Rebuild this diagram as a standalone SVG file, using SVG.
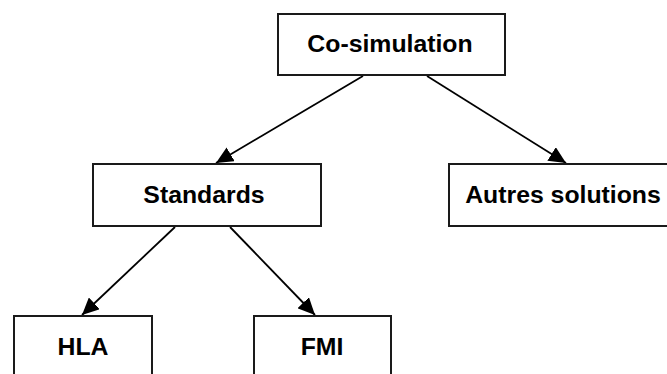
<svg xmlns="http://www.w3.org/2000/svg" width="667" height="374" viewBox="0 0 667 374">
<style>
.box{fill:#fff;stroke:#1a1a1a;stroke-width:2}
.lbl{font-family:"Liberation Sans",Arial,sans-serif;font-weight:bold;font-size:24.8px;fill:#000;text-anchor:middle}
.edge{stroke:#000;stroke-width:1.8;fill:none;marker-end:url(#ah)}
</style>
<defs>
<marker id="ah" markerUnits="userSpaceOnUse" markerWidth="20" markerHeight="16" refX="17" refY="8" orient="auto">
<path d="M0,0 L17,8 L0,16 Z" fill="#000"/>
</marker>
</defs>
<rect width="667" height="374" fill="#fff"/>
<g id="connectors">
<line class="edge" x1="363" y1="76" x2="216" y2="163"/>
<line class="edge" x1="427" y1="76" x2="566" y2="163"/>
<line class="edge" x1="175" y1="227" x2="82" y2="315"/>
<line class="edge" x1="230" y1="227" x2="315" y2="315"/>
</g>
<g id="cosim">
<rect class="box" x="278" y="14" width="227" height="61"/>
<text class="lbl" x="390" y="52">Co-simulation</text>
</g>
<g id="standards">
<rect class="box" x="93" y="164" width="228" height="62"/>
<text class="lbl" x="204" y="203">Standards</text>
</g>
<g id="autres">
<rect class="box" x="449" y="164" width="228" height="62"/>
<text class="lbl" x="563" y="203">Autres solutions</text>
</g>
<g id="hla">
<rect class="box" x="14" y="316" width="138" height="62"/>
<text class="lbl" x="83" y="355">HLA</text>
</g>
<g id="fmi">
<rect class="box" x="254" y="316" width="137" height="62"/>
<text class="lbl" x="322" y="355">FMI</text>
</g>
</svg>
